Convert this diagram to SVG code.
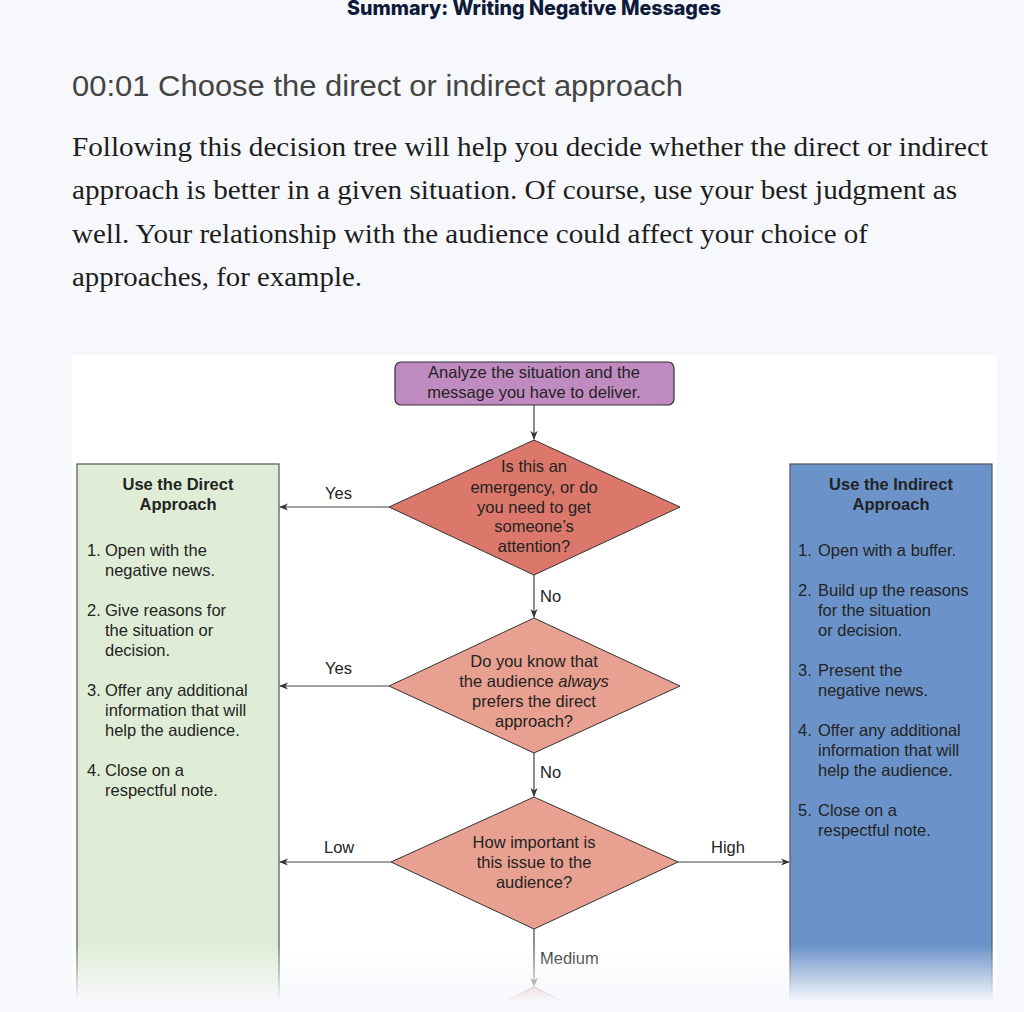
<svg xmlns="http://www.w3.org/2000/svg" width="1024" height="1012" viewBox="0 0 1024 1012">
<defs>
<style>
.t{font-family:"Liberation Sans",Arial,sans-serif;font-size:16.5px;fill:#232323}
.b{font-weight:bold}
.m{text-anchor:middle}
.c{stroke:#444;stroke-width:1.2;fill:none}
.p{font-family:"Liberation Serif","Times New Roman",serif;font-size:28px;fill:#1d1d1d}
</style>
<marker id="ah" viewBox="0 0 10 10" refX="9" refY="5" markerWidth="9" markerHeight="9" orient="auto-start-reverse" markerUnits="userSpaceOnUse">
<path d="M0,1 L10,5 L0,9 L3,5 z" fill="#333"/>
</marker>
<linearGradient id="fade" x1="0" y1="0" x2="0" y2="1">
<stop offset="0" stop-color="#f7f8fc" stop-opacity="0"/>
<stop offset="1" stop-color="#f7f8fc" stop-opacity="1"/>
</linearGradient>
</defs>
<rect width="1024" height="1012" fill="#f7f8fc"/>
<text x="347" y="15" textLength="374" lengthAdjust="spacingAndGlyphs" font-family="Inter,'Liberation Sans',sans-serif" font-weight="800" font-size="20" fill="#0e1a3a">Summary: Writing Negative Messages</text>
<text x="72" y="96" textLength="611" lengthAdjust="spacingAndGlyphs" font-family="'Liberation Sans',Arial,sans-serif" font-size="29" fill="#444">00:01 Choose the direct or indirect approach</text>
<text class="p" x="72" y="156" textLength="916" lengthAdjust="spacingAndGlyphs">Following this decision tree will help you decide whether the direct or indirect</text>
<text class="p" x="72" y="199" textLength="885" lengthAdjust="spacingAndGlyphs">approach is better in a given situation. Of course, use your best judgment as</text>
<text class="p" x="72" y="243" textLength="796" lengthAdjust="spacingAndGlyphs">well. Your relationship with the audience could affect your choice of</text>
<text class="p" x="72" y="286" textLength="290" lengthAdjust="spacingAndGlyphs">approaches, for example.</text>
<rect x="72" y="355" width="925" height="650" fill="#fff"/>
<g id="direct">
<rect x="77" y="464" width="202" height="545" fill="#e0edd6" stroke="#555" stroke-width="1.2"/>
<text class="t b m" x="178" y="490">Use the Direct</text>
<text class="t b m" x="178" y="510">Approach</text>
<text class="t" x="87" y="556">1.</text><text class="t" x="105" y="556">Open with the</text><text class="t" x="105" y="576">negative news.</text>
<text class="t" x="87" y="616">2.</text><text class="t" x="105" y="616">Give reasons for</text><text class="t" x="105" y="636">the situation or</text><text class="t" x="105" y="656">decision.</text>
<text class="t" x="87" y="696">3.</text><text class="t" x="105" y="696">Offer any additional</text><text class="t" x="105" y="716">information that will</text><text class="t" x="105" y="736">help the audience.</text>
<text class="t" x="87" y="776">4.</text><text class="t" x="105" y="776">Close on a</text><text class="t" x="105" y="796">respectful note.</text>
</g>
<g id="indirect">
<rect x="790" y="464" width="202" height="545" fill="#6b93c9" stroke="#555" stroke-width="1.2"/>
<text class="t b m" x="891" y="490">Use the Indirect</text>
<text class="t b m" x="891" y="510">Approach</text>
<text class="t" x="798" y="556">1.</text><text class="t" x="818" y="556">Open with a buffer.</text>
<text class="t" x="798" y="596">2.</text><text class="t" x="818" y="596">Build up the reasons</text><text class="t" x="818" y="616">for the situation</text><text class="t" x="818" y="636">or decision.</text>
<text class="t" x="798" y="676">3.</text><text class="t" x="818" y="676">Present the</text><text class="t" x="818" y="696">negative news.</text>
<text class="t" x="798" y="736">4.</text><text class="t" x="818" y="736">Offer any additional</text><text class="t" x="818" y="756">information that will</text><text class="t" x="818" y="776">help the audience.</text>
<text class="t" x="798" y="816">5.</text><text class="t" x="818" y="816">Close on a</text><text class="t" x="818" y="836">respectful note.</text>
</g>
<g id="analyze">
<rect x="395" y="362" width="279" height="43" rx="6" fill="#c08bc0" stroke="#333" stroke-width="1.2"/>
<text class="t m" x="534" y="378">Analyze the situation and the</text>
<text class="t m" x="534" y="398">message you have to deliver.</text>
</g>
<g id="q1">
<polygon points="534,440 680,507 534,575 389,507" fill="#dc786b" stroke="#333" stroke-width="1"/>
<text class="t m" x="534" y="472">Is this an</text>
<text class="t m" x="534" y="493">emergency, or do</text>
<text class="t m" x="534" y="513">you need to get</text>
<text class="t m" x="534" y="532">someone’s</text>
<text class="t m" x="534" y="552">attention?</text>
</g>
<g id="q2">
<polygon points="534,618 680,686 534,753 389,686" fill="#e8a090" stroke="#333" stroke-width="1"/>
<text class="t m" x="534" y="667">Do you know that</text>
<text class="t m" x="534" y="687">the audience <tspan font-style="italic">always</tspan></text>
<text class="t m" x="534" y="707">prefers the direct</text>
<text class="t m" x="534" y="727">approach?</text>
</g>
<g id="q3">
<polygon points="534,797 678,862 534,929 391,862" fill="#e8a090" stroke="#333" stroke-width="1"/>
<text class="t m" x="534" y="848">How important is</text>
<text class="t m" x="534" y="868">this issue to the</text>
<text class="t m" x="534" y="888">audience?</text>
</g>
<g id="q4">
<polygon points="534,987 640,1040 534,1090 428,1040" fill="#e8a090" stroke="#333" stroke-width="1"/>
</g>
<g id="connectors">
<line class="c" x1="534" y1="405" x2="534" y2="439" marker-end="url(#ah)"/>
<line class="c" x1="389" y1="507" x2="280" y2="507" marker-end="url(#ah)"/>
<line class="c" x1="534" y1="575" x2="534" y2="617" marker-end="url(#ah)"/>
<line class="c" x1="389" y1="686" x2="280" y2="686" marker-end="url(#ah)"/>
<line class="c" x1="534" y1="753" x2="534" y2="796" marker-end="url(#ah)"/>
<line class="c" x1="391" y1="862" x2="280" y2="862" marker-end="url(#ah)"/>
<line class="c" x1="678" y1="862" x2="789" y2="862" marker-end="url(#ah)"/>
<line class="c" x1="534" y1="929" x2="534" y2="986" marker-end="url(#ah)"/>
<text class="t" x="325" y="499">Yes</text>
<text class="t" x="540" y="602">No</text>
<text class="t" x="325" y="674">Yes</text>
<text class="t" x="540" y="778">No</text>
<text class="t" x="324" y="853">Low</text>
<text class="t" x="711" y="853">High</text>
<text class="t" x="540" y="964">Medium</text>
</g>
<rect x="0" y="945" width="1024" height="57" fill="url(#fade)"/>
<rect x="0" y="1000" width="1024" height="12" fill="#f7f8fc"/>
</svg>
